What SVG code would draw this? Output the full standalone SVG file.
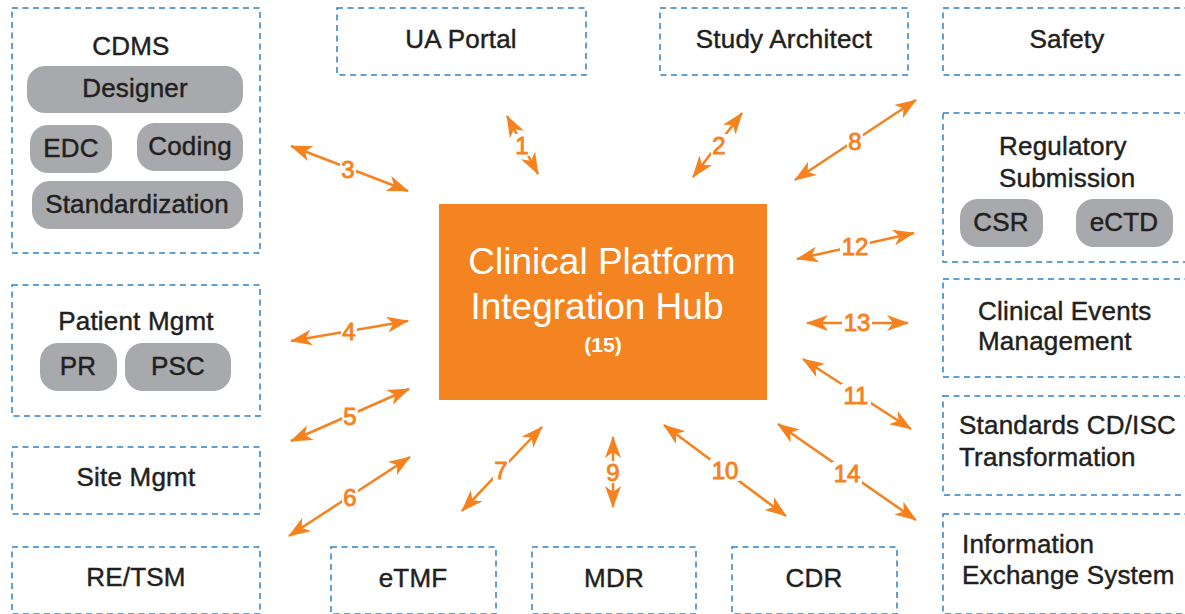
<svg xmlns="http://www.w3.org/2000/svg" width="1185" height="614" viewBox="0 0 1185 614">
  <defs>
    <style>
      .box { fill: none; stroke: #2f80c4; stroke-width: 1.5; stroke-dasharray: 6 4.5; }
      .pill { fill: #a7a9ac; stroke: none; }
      .lbl { font-family: "Liberation Sans", Arial, sans-serif; font-size: 26px; letter-spacing: 0.2px; fill: #231f20; stroke: #231f20; stroke-width: 0.45; }
      .mid { text-anchor: middle; }
      .hub { fill: #f38421; }
      .hubtxt { font-family: "Liberation Sans", Arial, sans-serif; fill: #ffffff; text-anchor: middle; }
      .link { stroke: #f5821f; stroke-width: 2.5; fill: none; marker-start: url(#head); marker-end: url(#head); }
      .gap { fill: #ffffff; }
      .num { font-family: "Liberation Sans", Arial, sans-serif; font-size: 24px; fill: #f5821f; stroke: #f5821f; stroke-width: 0.9; text-anchor: middle; }
    </style>
    <marker id="head" viewBox="0 0 22 16" markerWidth="22" markerHeight="16" refX="21" refY="8" orient="auto-start-reverse" markerUnits="userSpaceOnUse">
      <path d="M0,0 L22,8 L0,16 L6,8 Z" fill="#f5821f"/>
    </marker>
  </defs>

  <!-- central hub -->
  <g id="hub">
    <rect class="hub" x="439" y="204" width="328" height="196"/>
    <text class="hubtxt" x="602" y="274" font-size="37">Clinical Platform</text>
    <text class="hubtxt" x="597" y="319" font-size="37">Integration Hub</text>
    <text class="hubtxt" x="603" y="352" font-size="21" font-weight="bold">(15)</text>
  </g>

  <!-- left column -->
  <g id="cdms">
    <rect class="box" x="12" y="8" width="248" height="245"/>
    <text class="lbl mid" x="131" y="55">CDMS</text>
    <rect class="pill" x="27" y="66" width="216" height="47" rx="18"/>
    <text class="lbl mid" x="135" y="97">Designer</text>
    <rect class="pill" x="30" y="125" width="82" height="48" rx="18"/>
    <text class="lbl mid" x="71" y="157">EDC</text>
    <rect class="pill" x="137" y="123" width="106" height="48" rx="18"/>
    <text class="lbl mid" x="190" y="155">Coding</text>
    <rect class="pill" x="32" y="181" width="211" height="48" rx="18"/>
    <text class="lbl mid" x="137" y="213">Standardization</text>
  </g>
  <g id="patient-mgmt">
    <rect class="box" x="12" y="285" width="248" height="131"/>
    <text class="lbl mid" x="136" y="330">Patient Mgmt</text>
    <rect class="pill" x="40" y="343" width="77" height="48" rx="18"/>
    <text class="lbl mid" x="78" y="375">PR</text>
    <rect class="pill" x="125" y="343" width="106" height="48" rx="18"/>
    <text class="lbl mid" x="178" y="375">PSC</text>
  </g>
  <g id="site-mgmt">
    <rect class="box" x="12" y="447" width="248" height="67"/>
    <text class="lbl mid" x="136" y="486">Site Mgmt</text>
  </g>
  <g id="re-tsm">
    <rect class="box" x="12" y="547" width="248" height="67"/>
    <text class="lbl mid" x="136" y="586">RE/TSM</text>
  </g>

  <!-- top row -->
  <g id="ua-portal">
    <rect class="box" x="337" y="8" width="249" height="67"/>
    <text class="lbl mid" x="461" y="48">UA Portal</text>
  </g>
  <g id="study-architect">
    <rect class="box" x="660" y="8" width="248" height="67"/>
    <text class="lbl mid" x="784" y="48">Study Architect</text>
  </g>

  <!-- right column -->
  <g id="safety">
    <rect class="box" x="943" y="8" width="248" height="67"/>
    <text class="lbl mid" x="1067" y="48">Safety</text>
  </g>
  <g id="regulatory-submission">
    <rect class="box" x="943" y="113" width="248" height="149"/>
    <text class="lbl" x="999" y="155">Regulatory</text>
    <text class="lbl" x="999" y="187">Submission</text>
    <rect class="pill" x="960" y="199" width="83" height="48" rx="18"/>
    <text class="lbl mid" x="1001" y="231">CSR</text>
    <rect class="pill" x="1076" y="199" width="97" height="48" rx="18"/>
    <text class="lbl mid" x="1124" y="231">eCTD</text>
  </g>
  <g id="clinical-events">
    <rect class="box" x="943" y="279" width="248" height="98"/>
    <text class="lbl" x="978" y="320">Clinical Events</text>
    <text class="lbl" x="978" y="350">Management</text>
  </g>
  <g id="standards">
    <rect class="box" x="943" y="396" width="248" height="99"/>
    <text class="lbl" x="959" y="434">Standards CD/ISC</text>
    <text class="lbl" x="959" y="466">Transformation</text>
  </g>
  <g id="info-exchange">
    <rect class="box" x="943" y="514" width="248" height="100"/>
    <text class="lbl" x="962" y="553">Information</text>
    <text class="lbl" x="962" y="584">Exchange System</text>
  </g>

  <!-- bottom row -->
  <g id="etmf">
    <rect class="box" x="331" y="547" width="165" height="67"/>
    <text class="lbl mid" x="413" y="587">eTMF</text>
  </g>
  <g id="mdr">
    <rect class="box" x="532" y="547" width="164" height="67"/>
    <text class="lbl mid" x="614" y="587">MDR</text>
  </g>
  <g id="cdr">
    <rect class="box" x="732" y="547" width="165" height="67"/>
    <text class="lbl mid" x="814" y="587">CDR</text>
  </g>

  <!-- numbered two-way interfaces -->
  <g id="connectors">
    <line class="link" x1="507" y1="116" x2="538" y2="174"/>
    <line class="link" x1="693" y1="177" x2="742" y2="113"/>
    <line class="link" x1="291" y1="146" x2="408" y2="191"/>
    <line class="link" x1="291" y1="341" x2="408" y2="321"/>
    <line class="link" x1="291" y1="441" x2="409" y2="389"/>
    <line class="link" x1="289" y1="536" x2="410" y2="457"/>
    <line class="link" x1="462" y1="511" x2="542" y2="427"/>
    <line class="link" x1="613" y1="437" x2="613" y2="507"/>
    <line class="link" x1="664" y1="425" x2="786" y2="516"/>
    <line class="link" x1="803" y1="359" x2="911" y2="429"/>
    <line class="link" x1="797" y1="259" x2="914" y2="233"/>
    <line class="link" x1="807" y1="323" x2="908" y2="323"/>
    <line class="link" x1="778" y1="424" x2="916" y2="520"/>
    <line class="link" x1="795" y1="180" x2="916" y2="100"/>

    <!-- white gaps behind the numbers -->
    <rect class="gap" x="514" y="134" width="16" height="22"/>
    <rect class="gap" x="711" y="134" width="16" height="22"/>
    <rect class="gap" x="340" y="158" width="16" height="22"/>
    <rect class="gap" x="341" y="320" width="16" height="22"/>
    <rect class="gap" x="342" y="405" width="16" height="22"/>
    <rect class="gap" x="342" y="486" width="16" height="22"/>
    <rect class="gap" x="493" y="459" width="16" height="22"/>
    <rect class="gap" x="847" y="130" width="16" height="22"/>
    <rect class="gap" x="605" y="461" width="16" height="22"/>
    <rect class="gap" x="710" y="459" width="30" height="22"/>
    <rect class="gap" x="841" y="384" width="30" height="22"/>
    <rect class="gap" x="840" y="235" width="30" height="22"/>
    <rect class="gap" x="842" y="311" width="30" height="22"/>
    <rect class="gap" x="832" y="462" width="30" height="22"/>

    <text class="num" x="522" y="154">1</text>
    <text class="num" x="719" y="154">2</text>
    <text class="num" x="348" y="178">3</text>
    <text class="num" x="349" y="340">4</text>
    <text class="num" x="350" y="425">5</text>
    <text class="num" x="350" y="506">6</text>
    <text class="num" x="501" y="479">7</text>
    <text class="num" x="855" y="150">8</text>
    <text class="num" x="613" y="481">9</text>
    <text class="num" x="725" y="479">10</text>
    <text class="num" x="856" y="404">11</text>
    <text class="num" x="855" y="255">12</text>
    <text class="num" x="857" y="331">13</text>
    <text class="num" x="847" y="482">14</text>
  </g>
</svg>
